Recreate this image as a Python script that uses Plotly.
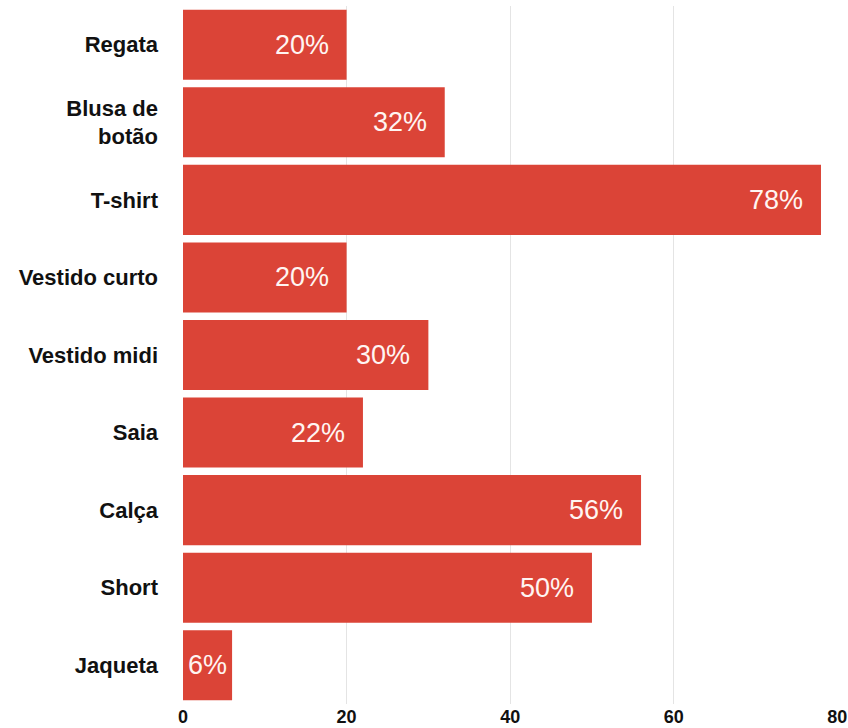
import plotly.graph_objects as go

categories = ["Regata", "Blusa de<br>botão", "T-shirt", "Vestido curto", "Vestido midi",
              "Saia", "Calça", "Short", "Jaqueta"]
values = [20, 32, 78, 20, 30, 22, 56, 50, 6]
labels = ["20%", "32%", "78%", "20%", "30%", "22%", "56%", "50%", "6%"]
x_ticks = [0, 20, 40, 60, 80]

RED = "#DB4437"
FONT = "Liberation Sans, Arial"

fig = go.Figure()
fig.add_trace(go.Bar(
    x=values, y=categories, orientation="h",
    marker=dict(color=RED, line=dict(width=0)),
    hoverinfo="skip",
))

annotations = []
for c, v, t in zip(categories, values, labels):
    if v >= 10:
        annotations.append(dict(x=v, y=c, xref="x", yref="y", text=t, showarrow=False,
                                xanchor="right", xshift=-16,
                                font=dict(family=FONT, size=27, color="#fff5f2")))
    else:
        annotations.append(dict(x=0, y=c, xref="x", yref="y", text=t, showarrow=False,
                                xanchor="left", xshift=3,
                                font=dict(family=FONT, size=27, color="#fff5f2")))

fig.update_layout(
    width=848, height=728,
    margin=dict(l=183, r=10, t=6, b=24, autoexpand=False),
    paper_bgcolor="white", plot_bgcolor="white",
    bargap=0.097,
    showlegend=False,
    annotations=annotations,
    font=dict(family=FONT, color="#111111"),
    xaxis=dict(range=[0, 80.08], tickvals=x_ticks, ticktext=[str(v) for v in x_ticks],
               showgrid=True, gridcolor="#e4e4e4", gridwidth=1, zeroline=False,
               showline=False, ticks="", automargin=False, ticklabeloverflow="allow",
               tickfont=dict(family=FONT, size=18, color="#111111", weight="bold")),
    yaxis=dict(autorange="reversed", showgrid=False, zeroline=False, showline=False, ticks="",
               ticklabelstandoff=24, automargin=False,
               tickfont=dict(family=FONT, size=22, color="#111111", weight="bold")),
)

fig.write_html("out.html", config={"displayModeBar": False},
               post_script="document.body.style.margin='0';document.body.style.overflow='hidden';")
